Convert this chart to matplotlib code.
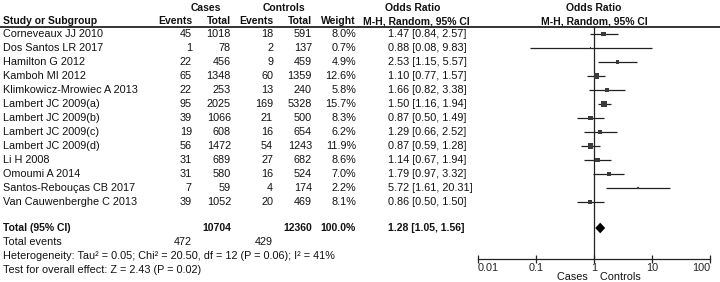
import numpy as np
import matplotlib.pyplot as plt

plt.rcParams['font.family'] = ['Liberation Sans', 'DejaVu Sans']

studies = ['Corneveaux JJ 2010', 'Dos Santos LR 2017', 'Hamilton G 2012', 'Kamboh MI 2012',
           'Klimkowicz-Mrowiec A 2013', 'Lambert JC 2009(a)', 'Lambert JC 2009(b)',
           'Lambert JC 2009(c)', 'Lambert JC 2009(d)', 'Li H 2008', 'Omoumi A 2014',
           'Santos-Rebouças CB 2017', 'Van Cauwenberghe C 2013']
case_events = [45, 1, 22, 65, 22, 95, 39, 19, 56, 31, 31, 7, 39]
case_total = [1018, 78, 456, 1348, 253, 2025, 1066, 608, 1472, 689, 580, 59, 1052]
ctrl_events = [18, 2, 9, 60, 13, 169, 21, 16, 54, 27, 16, 4, 20]
ctrl_total = [591, 137, 459, 1359, 240, 5328, 500, 654, 1243, 682, 524, 174, 469]
weight = [8.0, 0.7, 4.9, 12.6, 5.8, 15.7, 8.3, 6.2, 11.9, 8.6, 7.0, 2.2, 8.1]
odds = [1.47, 0.88, 2.53, 1.10, 1.66, 1.50, 0.87, 1.29, 0.87, 1.14, 1.79, 5.72, 0.86]
ci_low = [0.84, 0.08, 1.15, 0.77, 0.82, 1.16, 0.50, 0.66, 0.59, 0.67, 0.97, 1.61, 0.50]
ci_high = [2.57, 9.83, 5.57, 1.57, 3.38, 1.94, 1.49, 2.52, 1.28, 1.94, 3.32, 20.31, 1.50]

total_or, total_low, total_high = 1.28, 1.05, 1.56
total_cases, total_ctrls = 10704, 12360
events_cases, events_ctrls = 472, 429
heterogeneity = 'Heterogeneity: Tau² = 0.05; Chi² = 20.50, df = 12 (P = 0.06); I² = 41%'
overall = 'Test for overall effect: Z = 2.43 (P = 0.02)'
ticks = [0.01, 0.1, 1, 10, 100]
tick_labels = ['0.01', '0.1', '1', '10', '100']

W, H = 720, 282
row0, step = 34, 14.0


def row(px):
    return (px - row0) / step


fig = plt.figure(figsize=(W / 100, H / 100), dpi=100)
ax = fig.add_axes([0, 0, 1, 1])
ax.set_xlim(0, W)
ax.set_ylim(row(H), row(0))
ax.axis('off')

fs = 7.8
fb = 7.5
col = '#111111'
n = len(studies)
idx = np.arange(n)
tot_row = row(228)

# headers
ax.text(206, row(8), 'Cases', ha='center', va='center', fontsize=fb, weight='bold', color=col)
ax.text(284, row(8), 'Controls', ha='center', va='center', fontsize=fb, weight='bold', color=col)
ax.text(413, row(8), 'Odds Ratio', ha='center', va='center', fontsize=fb, weight='bold', color=col)
ax.text(594, row(8), 'Odds Ratio', ha='center', va='center', fontsize=fb, weight='bold', color=col)
hdr = row(21)
ax.text(3, hdr, 'Study or Subgroup', ha='left', va='center', fontsize=fb, weight='bold', color=col)
for x, s in [(192, 'Events'), (231, 'Total'), (273, 'Events'), (312, 'Total'), (356, 'Weight')]:
    ax.text(x, hdr, s, ha='right', va='center', fontsize=fb, weight='bold', color=col)
ax.text(416, hdr, 'M-H, Random, 95% CI', ha='center', va='center', fontsize=fb, weight='bold', color=col)
ax.text(594, hdr, 'M-H, Random, 95% CI', ha='center', va='center', fontsize=fb, weight='bold', color=col)
ax.plot([0, W], [row(27), row(27)], color='#333333', lw=1.4, solid_capstyle='butt')

# study rows
for i in idx:
    ax.text(3, i, studies[i], ha='left', va='center', fontsize=fs, color=col)
    ax.text(192, i, str(case_events[i]), ha='right', va='center', fontsize=fs, color=col)
    ax.text(231, i, str(case_total[i]), ha='right', va='center', fontsize=fs, color=col)
    ax.text(273, i, str(ctrl_events[i]), ha='right', va='center', fontsize=fs, color=col)
    ax.text(312, i, str(ctrl_total[i]), ha='right', va='center', fontsize=fs, color=col)
    ax.text(356, i, f'{weight[i]:.1f}%', ha='right', va='center', fontsize=fs, color=col)
    ax.text(388, i, f'{odds[i]:.2f} [{ci_low[i]:.2f}, {ci_high[i]:.2f}]',
            ha='left', va='center', fontsize=fs, color=col)

# totals
ax.text(3, tot_row, 'Total (95% CI)', ha='left', va='center', fontsize=fb, weight='bold', color=col)
ax.text(231, tot_row, str(total_cases), ha='right', va='center', fontsize=fb, weight='bold', color=col)
ax.text(312, tot_row, str(total_ctrls), ha='right', va='center', fontsize=fb, weight='bold', color=col)
ax.text(356, tot_row, '100.0%', ha='right', va='center', fontsize=fb, weight='bold', color=col)
ax.text(388, tot_row, f'{total_or:.2f} [{total_low:.2f}, {total_high:.2f}]',
        ha='left', va='center', fontsize=fb, weight='bold', color=col)
ax.text(3, row(242), 'Total events', ha='left', va='center', fontsize=fs, color=col)
ax.text(192, row(242), str(events_cases), ha='right', va='center', fontsize=fs, color=col)
ax.text(273, row(242), str(events_ctrls), ha='right', va='center', fontsize=fs, color=col)
ax.text(3, row(256), heterogeneity, ha='left', va='center', fontsize=fs, color=col)
ax.text(3, row(270), overall, ha='left', va='center', fontsize=fs, color=col)

# forest panel
fx0, fx1 = 478, 710
fa = fig.add_axes([fx0 / W, 0, (fx1 - fx0) / W, 1])
fa.set_xscale('log')
fa.set_xlim(0.01, 100)
fa.set_ylim(row(H), row(0))
fa.patch.set_alpha(0)
for s in ['left', 'right', 'top']:
    fa.spines[s].set_visible(False)
axis_row = row(259)
fa.spines['bottom'].set_position(('data', axis_row))
fa.spines['bottom'].set_color('#222222')
fa.spines['bottom'].set_linewidth(0.9)
fa.set_yticks([])
fa.set_xticks(ticks)
fa.set_xticklabels(tick_labels)
fa.minorticks_off()
fa.tick_params(axis='x', direction='inout', length=6, width=0.9, pad=0,
               labelsize=fs, colors='#222222')
lbls = fa.get_xticklabels()
lbls[0].set_ha('left')
lbls[-1].set_ha('right')

fa.plot([1, 1], [row(27), axis_row], color='#222222', lw=0.9)
fa.hlines(idx, ci_low, ci_high, color='#222222', lw=0.9)
sizes = 21 * np.array(weight) / max(weight)
fa.scatter(odds, idx, s=sizes, marker='s', color='#3a3a3a', zorder=3, linewidths=0)
dh = 0.38
fa.fill([total_low, total_or, total_high, total_or],
        [tot_row, tot_row - dh, tot_row, tot_row + dh], color='black', lw=0)
fa.text(1, row(277.5), 'Cases  ', ha='right', va='center', fontsize=fs, color=col)
fa.text(1, row(277.5), '  Controls', ha='left', va='center', fontsize=fs, color=col)

fig.savefig('out.png', dpi=100)
